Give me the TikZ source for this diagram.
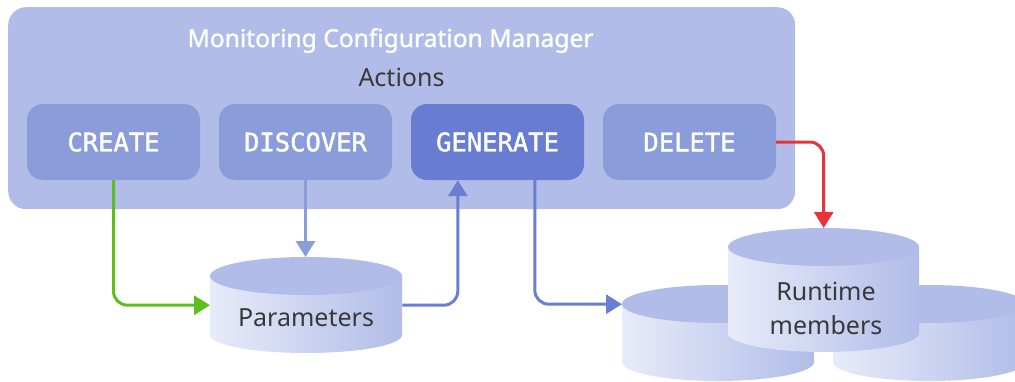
\documentclass[tikz,border=0pt]{standalone}
\usepackage{fontspec}
\newfontfamily\sansf{Noto Sans}
\newfontfamily\sansm{Noto Sans}[FakeBold=1.2]
\newfontfamily\monof{DejaVu Sans Mono}[FakeBold=1.6]
\usetikzlibrary{arrows.meta}
\definecolor{boxbg}{HTML}{B1BDE8}
\definecolor{btn}{HTML}{8B9CDA}
\definecolor{gen}{HTML}{687CD2}
\definecolor{grn}{HTML}{5DBE1C}
\definecolor{rd}{HTML}{E8333B}
\definecolor{blu}{HTML}{6A7ED3}
\definecolor{txt}{HTML}{393939}
\definecolor{cylL}{HTML}{E8EBF9}
\definecolor{cylR}{HTML}{B1BDE8}
\begin{document}
\begin{tikzpicture}[x=1pt,y=-1pt,
  btnbox/.style={fill=btn,rounded corners=16pt,minimum width=173pt,minimum height=76pt,
     inner sep=0pt,text=white,font=\monof\fontsize{25.5}{30}\selectfont},
  lbl/.style={text=txt,font=\sansf\fontsize{25}{34}\selectfont,anchor=base,inner sep=0pt},
  conn/.style={line width=3pt,rounded corners=14pt,-{Triangle[length=16pt,width=19pt]}},
  anchorbox/.style={inner sep=0pt,draw=none}]
\useasboundingbox (0,0) rectangle (1015,381);
% outer box
\node[anchorbox,fill=boxbg,rounded corners=18pt,minimum width=787pt,minimum height=202pt,anchor=north west] (mgr) at (8,7) {};
\node[lbl,text=white,font=\sansm\fontsize{24.6}{30}\selectfont] (title) at (390.5,47) {Monitoring Configuration Manager};
\node[lbl] (actions) at (401.5,86) {Actions};
% buttons
\node[btnbox] (create) at (113.5,142) {CREATE};
\node[btnbox] (discover) at (305.5,142) {DISCOVER};
\node[btnbox,fill=gen] (generate) at (497.5,142) {GENERATE};
\node[btnbox] (delete) at (689.5,142) {DELETE};
% cylinders: back ones
\shade[left color=cylL,right color=cylR] (622,304) -- (622,362) arc[start angle=180,end angle=360,x radius=96pt,y radius=19pt] -- (814,304) -- cycle;
\fill[boxbg] (718,304) ellipse[x radius=96pt,y radius=19pt];
\shade[left color=cylL,right color=cylR] (833,304) -- (833,362) arc[start angle=180,end angle=360,x radius=96pt,y radius=19pt] -- (1025,304) -- cycle;
\fill[boxbg] (929,304) ellipse[x radius=96pt,y radius=19pt];
% front runtime
\shade[left color=cylL,right color=cylR] (728,247) -- (728,333) arc[start angle=180,end angle=360,x radius=95.5pt,y radius=19pt] -- (919,247) -- cycle;
\fill[boxbg] (823.5,247) ellipse[x radius=95.5pt,y radius=19pt];
% parameters
\shade[left color=cylL,right color=cylR] (210,276) -- (210,335) arc[start angle=180,end angle=360,x radius=96pt,y radius=18pt] -- (402,276) -- cycle;
\fill[boxbg] (306,276) ellipse[x radius=96pt,y radius=19pt];
% anchor nodes for cylinders
\node[anchorbox,minimum width=192pt,minimum height=96pt,anchor=north west] (params) at (210,257) {};
\node[anchorbox,minimum width=191pt,minimum height=38pt,anchor=north west] (rtfront) at (728,228) {};
\node[anchorbox,minimum width=192pt,minimum height=38pt,anchor=north west] (rtleft) at (622,285) {};
% labels
\node[lbl] (ptext) at (306,326) {Parameters};
\node[lbl] (rt1) at (826,300) {Runtime};
\node[lbl] (rt2) at (826,334) {members};
% connectors
\draw[conn,grn] (create.south) |- (params.west);
\draw[conn,btn] (discover.south) -- (discover.south |- params.north);
\draw[conn,blu] (params.east) -| ([xshift=47pt]generate.south west);
\draw[conn,blu] ([xshift=124pt]generate.south west) |- (rtleft.west);
\draw[conn,rd] (delete.east) -| (rtfront.north);
\end{tikzpicture}
\end{document}
